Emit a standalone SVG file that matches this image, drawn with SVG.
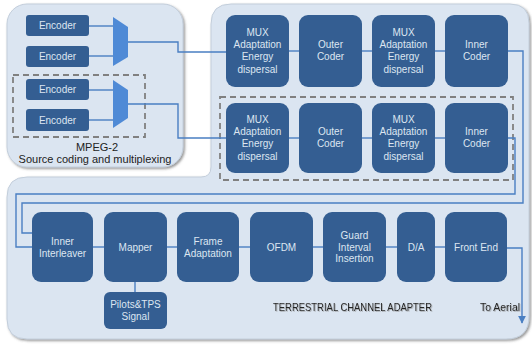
<svg xmlns="http://www.w3.org/2000/svg" width="532" height="344" viewBox="0 0 532 344">
<defs>
<style>
.panel{fill:#dbe5f1;stroke:#c3cedb;stroke-width:1}
.box{fill:#345e92}
.mux{fill:#4f8ad6}
.bt{font-family:"Liberation Sans",Arial,sans-serif;font-size:10px;fill:#dde6f1;text-anchor:middle}
.dk{font-family:"Liberation Sans",Arial,sans-serif;font-size:11px;fill:#222;text-anchor:middle}
.ln{fill:none;stroke:#4a7fc2;stroke-width:1.4}
.dash{fill:none;stroke:#808080;stroke-width:1.8;stroke-dasharray:6,4}
</style>
<filter id="sh" x="-5%" y="-5%" width="110%" height="110%">
<feDropShadow dx="1.5" dy="1.5" stdDeviation="0.8" flood-color="#555" flood-opacity="0.6"/>
</filter>
<filter id="ts" x="-5%" y="-20%" width="110%" height="140%">
<feDropShadow dx="0.8" dy="0.8" stdDeviation="0.5" flood-color="#888" flood-opacity="0.7"/>
</filter>
<marker id="ah" viewBox="0 0 10 10" refX="9" refY="5" markerWidth="5.5" markerHeight="5.5" orient="auto">
<path d="M0,0 L10,5 L0,10 Z" fill="#4a7fc2"/>
</marker>
</defs>
<rect width="532" height="344" fill="#ffffff"/>

<g id="panels">
<rect class="panel" x="7" y="4" width="176" height="163" rx="20" filter="url(#sh)"/>
<path class="panel" filter="url(#sh)" d="M231,4 H510 Q529,4 529,23 V316 Q529,339 506,339 H27 Q7,339 7,319 V197 Q7,177 27,177 H201 Q211,177 211,167 V24 Q211,4 231,4 Z"/>
</g>

<g id="dashed">
<rect class="dash" x="13" y="75" width="132" height="62"/>
<rect class="dash" x="220" y="97" width="293" height="83"/>
</g>

<g id="connectors">
<line class="ln" x1="89" y1="26" x2="113" y2="26"/>
<line class="ln" x1="89" y1="56" x2="113" y2="56"/>
<line class="ln" x1="89" y1="90" x2="113" y2="90"/>
<line class="ln" x1="89" y1="120" x2="113" y2="120"/>
<polyline class="ln" points="128,42 178,42 178,52 226,52"/>
<polyline class="ln" points="128,104 178,104 178,138 226,138"/>
<line class="ln" x1="289" y1="51" x2="299" y2="51"/>
<line class="ln" x1="362" y1="51" x2="372" y2="51"/>
<line class="ln" x1="435" y1="51" x2="445" y2="51"/>
<line class="ln" x1="289" y1="138" x2="299" y2="138"/>
<line class="ln" x1="362" y1="138" x2="372" y2="138"/>
<line class="ln" x1="435" y1="138" x2="445" y2="138"/>
<polyline class="ln" points="508,51 523,51 523,203 22,203 22,233 32,233"/>
<polyline class="ln" points="508,138 515,138 515,194 16,194 16,247 32,247"/>
<line class="ln" x1="93" y1="247" x2="104" y2="247"/>
<line class="ln" x1="167" y1="247" x2="177" y2="247"/>
<line class="ln" x1="239" y1="247" x2="250" y2="247"/>
<line class="ln" x1="313" y1="247" x2="323" y2="247"/>
<line class="ln" x1="386" y1="247" x2="397" y2="247"/>
<line class="ln" x1="435" y1="247" x2="445" y2="247"/>
<line class="ln" x1="135" y1="282" x2="135" y2="292"/>
<polyline class="ln" points="507,248 522,248 522,323" marker-end="url(#ah)"/>
</g>

<g id="enc1"><rect class="box" x="26" y="15" width="63" height="21" rx="3"/><text class="bt" x="57.5" y="29">Encoder</text></g>
<g id="enc2"><rect class="box" x="26" y="46" width="63" height="21" rx="3"/><text class="bt" x="57.5" y="60">Encoder</text></g>
<g id="enc3"><rect class="box" x="26" y="79" width="63" height="21" rx="3"/><text class="bt" x="57.5" y="93">Encoder</text></g>
<g id="enc4"><rect class="box" x="26" y="109" width="63" height="22" rx="3"/><text class="bt" x="57.5" y="123.5">Encoder</text></g>
<g id="mux1"><polygon class="mux" points="113,17 128,27 128,57 113,66"/></g>
<g id="mux2"><polygon class="mux" points="113,80 128,90 128,118 113,128"/></g>
<g id="src-label">
<text class="dk" x="97" y="151">MPEG-2</text>
<text class="dk" x="95" y="163">Source coding and multiplexing</text>
</g>

<g id="mux-a1"><rect class="box" x="226" y="15" width="63" height="72" rx="9"/>
<text class="bt"><tspan x="257.5" y="36">MUX</tspan><tspan x="257.5" y="48.2">Adaptation</tspan><tspan x="257.5" y="60.4">Energy</tspan><tspan x="257.5" y="72.6">dispersal</tspan></text></g>
<g id="outer1"><rect class="box" x="299" y="15" width="63" height="72" rx="9"/>
<text class="bt"><tspan x="330.5" y="48.2">Outer</tspan><tspan x="330.5" y="60.4">Coder</tspan></text></g>
<g id="mux-b1"><rect class="box" x="372" y="15" width="63" height="72" rx="9"/>
<text class="bt"><tspan x="403.5" y="36">MUX</tspan><tspan x="403.5" y="48.2">Adaptation</tspan><tspan x="403.5" y="60.4">Energy</tspan><tspan x="403.5" y="72.6">dispersal</tspan></text></g>
<g id="inner1"><rect class="box" x="445" y="15" width="63" height="72" rx="9"/>
<text class="bt"><tspan x="476.5" y="48.2">Inner</tspan><tspan x="476.5" y="60.4">Coder</tspan></text></g>

<g id="mux-a2"><rect class="box" x="226" y="103" width="63" height="70" rx="9"/>
<text class="bt"><tspan x="257.5" y="123">MUX</tspan><tspan x="257.5" y="135.2">Adaptation</tspan><tspan x="257.5" y="147.4">Energy</tspan><tspan x="257.5" y="159.6">dispersal</tspan></text></g>
<g id="outer2"><rect class="box" x="299" y="103" width="63" height="70" rx="9"/>
<text class="bt"><tspan x="330.5" y="135.2">Outer</tspan><tspan x="330.5" y="147.4">Coder</tspan></text></g>
<g id="mux-b2"><rect class="box" x="372" y="103" width="63" height="70" rx="9"/>
<text class="bt"><tspan x="403.5" y="123">MUX</tspan><tspan x="403.5" y="135.2">Adaptation</tspan><tspan x="403.5" y="147.4">Energy</tspan><tspan x="403.5" y="159.6">dispersal</tspan></text></g>
<g id="inner2"><rect class="box" x="445" y="103" width="63" height="70" rx="9"/>
<text class="bt"><tspan x="476.5" y="135.2">Inner</tspan><tspan x="476.5" y="147.4">Coder</tspan></text></g>

<g id="interleaver"><rect class="box" x="32" y="212" width="61" height="70" rx="9"/>
<text class="bt"><tspan x="62.5" y="244.5">Inner</tspan><tspan x="62.5" y="256.5">Interleaver</tspan></text></g>
<g id="mapper"><rect class="box" x="104" y="212" width="63" height="70" rx="9"/>
<text class="bt" x="135.5" y="250.5">Mapper</text></g>
<g id="frame"><rect class="box" x="177" y="212" width="62" height="70" rx="9"/>
<text class="bt"><tspan x="208" y="244.5">Frame</tspan><tspan x="208" y="256.5">Adaptation</tspan></text></g>
<g id="ofdm"><rect class="box" x="250" y="212" width="63" height="70" rx="9"/>
<text class="bt" x="281.5" y="250.5">OFDM</text></g>
<g id="guard"><rect class="box" x="323" y="212" width="63" height="70" rx="9"/>
<text class="bt"><tspan x="354.5" y="238.5">Guard</tspan><tspan x="354.5" y="250.5">Interval</tspan><tspan x="354.5" y="262">Insertion</tspan></text></g>
<g id="da"><rect class="box" x="397" y="212" width="38" height="70" rx="9"/>
<text class="bt" x="416" y="250.5">D/A</text></g>
<g id="frontend"><rect class="box" x="445" y="212" width="62" height="70" rx="9"/>
<text class="bt" x="476" y="250.5">Front End</text></g>
<g id="pilots"><rect class="box" x="104" y="292" width="63" height="37" rx="6"/>
<text class="bt"><tspan x="135.5" y="308">Pilots&amp;TPS</tspan><tspan x="135.5" y="320">Signal</tspan></text></g>

<g id="labels" filter="url(#ts)">
<text class="dk" x="352.5" y="311" style="font-size:11.5px" textLength="159" lengthAdjust="spacingAndGlyphs">TERRESTRIAL CHANNEL ADAPTER</text>
<text class="dk" x="500" y="311" style="font-size:11.5px" textLength="40" lengthAdjust="spacingAndGlyphs">To Aerial</text>
</g>
</svg>
